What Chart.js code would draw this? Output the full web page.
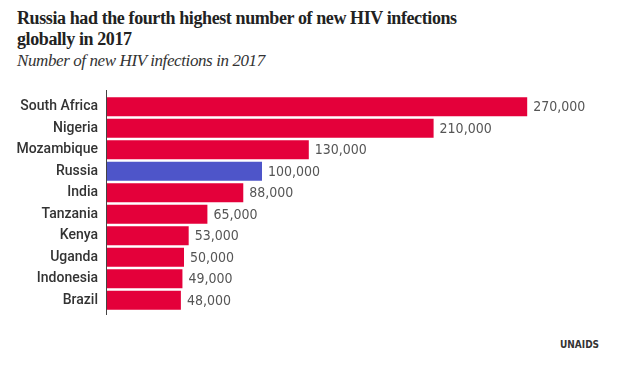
<!DOCTYPE html>
<html lang="en">
<head>
    <meta charset="UTF-8">
    <title>New HIV infections 2017</title>
    <script src="https://cdn.jsdelivr.net/npm/chart.js"></script>
    <style>
        body { margin: 0; padding: 0; background: #fff; width: 620px; height: 368px; overflow: hidden; position: relative; }
        .title { position: absolute; left: 17px; top: 8px; font-family: 'Liberation Serif', serif; font-weight: bold; font-size: 18px; letter-spacing: -0.4px; line-height: 21px; color: #222; white-space: nowrap; }
        .subtitle { position: absolute; left: 17px; top: 51px; font-family: 'Liberation Serif', serif; font-style: italic; font-size: 17px; letter-spacing: -0.4px; color: #333; }
        .source { position: absolute; left: 560px; top: 339px; font-family: 'DejaVu Sans Condensed', sans-serif; font-weight: bold; font-size: 10px; color: #333; }
        canvas { position: absolute; left: 0; top: 0; }
    </style>
</head>
<body>

<div class="title">Russia had the fourth highest number of new HIV infections<br>globally in 2017</div>
<div class="subtitle">Number of new HIV infections in 2017</div>
<div class="source">UNAIDS</div>
<canvas id="hivChart" width="620" height="368"></canvas>

<script>
    const countries = ['South Africa', 'Nigeria', 'Mozambique', 'Russia', 'India', 'Tanzania', 'Kenya', 'Uganda', 'Indonesia', 'Brazil'];
    const infections = [270000, 210000, 130000, 100000, 88000, 65000, 53000, 50000, 49000, 48000];
    const highlight = 'Russia';

    const red = '#e4003a';
    const blue = '#4e55c9';

    const valueLabels = {
        id: 'valueLabels',
        afterDatasetsDraw(chart) {
            const ctx = chart.ctx;
            const meta = chart.getDatasetMeta(0);
            ctx.save();
            ctx.font = '14px "DejaVu Sans Condensed", sans-serif';
            ctx.fillStyle = '#555';
            ctx.textBaseline = 'middle';
            meta.data.forEach((bar, i) => {
                ctx.fillText(infections[i].toLocaleString('en-US'), bar.x + 6, bar.y + 1);
            });
            // axis line, slightly longer than the bars
            const area = chart.chartArea;
            ctx.strokeStyle = '#444';
            ctx.lineWidth = 1;
            ctx.beginPath();
            ctx.moveTo(area.left + 0.5, area.top - 6);
            ctx.lineTo(area.left + 0.5, area.bottom + 4);
            ctx.stroke();
            ctx.restore();
        }
    };

    new Chart(document.getElementById('hivChart'), {
        type: 'bar',
        data: {
            labels: countries,
            datasets: [{
                data: infections,
                backgroundColor: countries.map(c => c === highlight ? blue : red),
                categoryPercentage: 1,
                barPercentage: 0.88
            }]
        },
        options: {
            indexAxis: 'y',
            responsive: false,
            animation: false,
            layout: { padding: { top: 96, bottom: 57, right: 46, left: 0 } },
            scales: {
                x: {
                    display: false,
                    min: 0,
                    max: 300000
                },
                y: {
                    grid: { display: false, drawTicks: false },
                    border: { display: false },
                    ticks: {
                        color: '#333',
                        padding: 8,
                        font: { family: 'Roboto, sans-serif', size: 14, weight: 500 }
                    },
                    afterFit(scale) { scale.width = 106; }
                }
            },
            plugins: {
                legend: { display: false },
                tooltip: { enabled: false }
            }
        },
        plugins: [valueLabels]
    });
</script>

</body>
</html>
